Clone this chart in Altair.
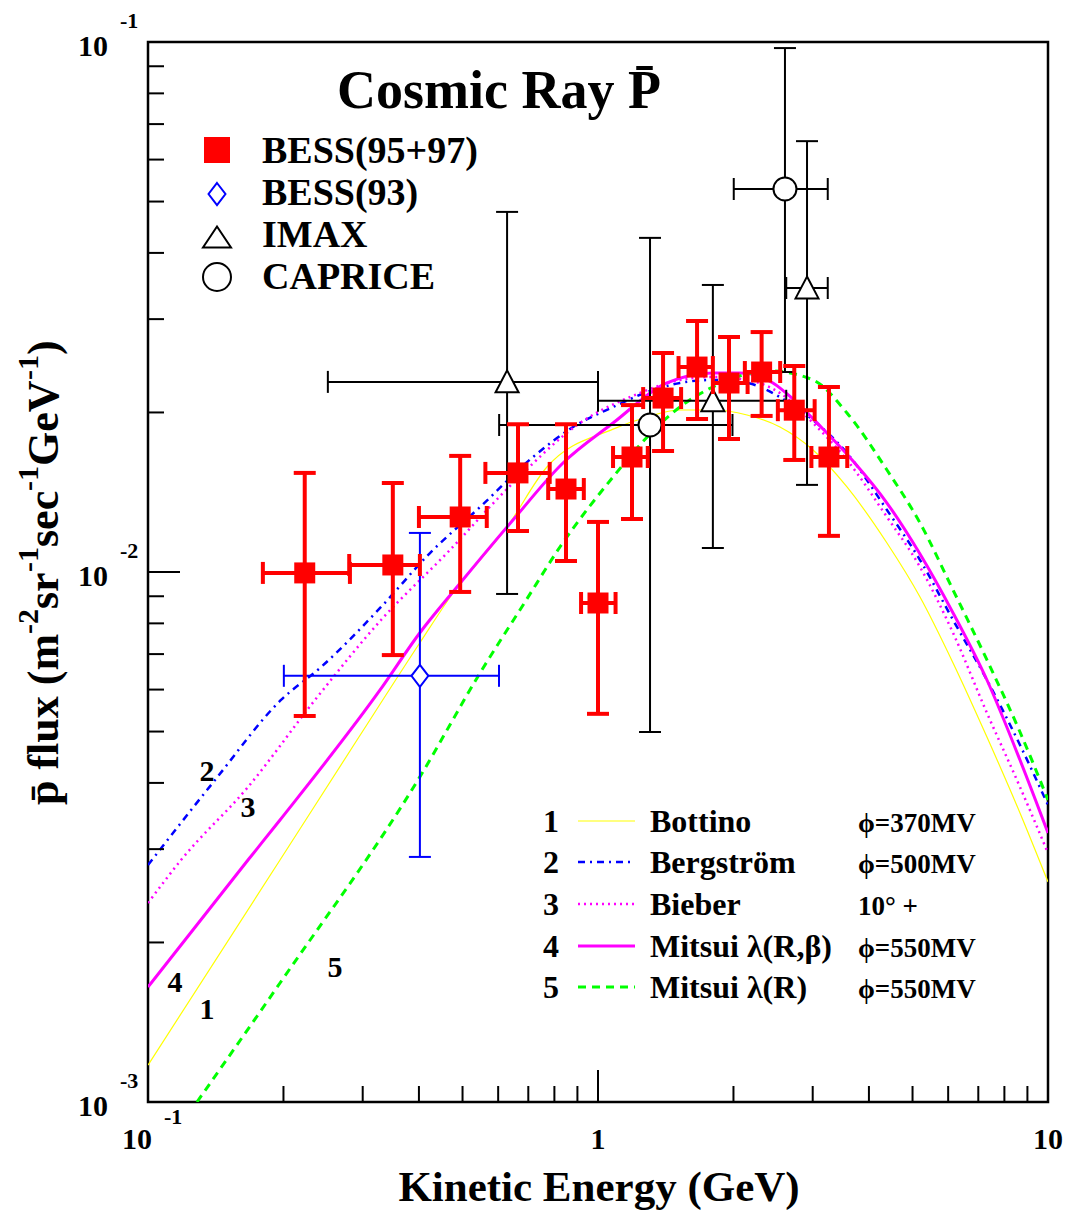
import altair as alt
import pandas as pd

# ---------------- data ----------------
# BESS (95+97)
bess_E = [0.223, 0.350, 0.494, 0.664, 0.849, 1.00, 1.19, 1.395, 1.66, 1.955, 2.31, 2.73, 3.26]
bess_F = [0.00996, 0.01031, 0.01270, 0.01538, 0.01434, 0.00874, 0.01648, 0.02129, 0.02436, 0.02273, 0.02384, 0.0202, 0.01648]
bess_Flo = [0.00535, 0.00697, 0.00917, 0.01195, 0.01049, 0.0054, 0.01259, 0.01691, 0.01944, 0.01782, 0.0197, 0.01627, 0.0117]
bess_Fhi = [0.01538, 0.01472, 0.01656, 0.0190, 0.0190, 0.01243, 0.02065, 0.02589, 0.02976, 0.02776, 0.02836, 0.02447, 0.02234]
bess_Elo = [0.180, 0.280, 0.400, 0.562, 0.775, 0.917, 1.08, 1.26, 1.51, 1.80, 2.12, 2.51, 2.98]
bess_Ehi = [0.281, 0.402, 0.566, 0.781, 0.930, 1.094, 1.29, 1.53, 1.80, 2.15, 2.54, 3.03, 3.58]

# BESS (93)
b93_E = [0.402]
b93_F = [0.00637]
b93_Flo = [0.0029]
b93_Fhi = [0.01185]
b93_Elo = [0.2004]
b93_Ehi = [0.6025]

# IMAX
imax_E = [0.628, 1.80, 2.914]
imax_F = [0.02284, 0.02104, 0.03434]
imax_Flo = [0.00909, 0.0111, 0.0146]
imax_Fhi = [0.0478, 0.0348, 0.0650]
imax_Elo = [0.251, 1.0, 2.62]
imax_Ehi = [1.0, 2.62, 3.24]

# CAPRICE
cap_E = [1.305, 2.603]
cap_F = [0.01894, 0.0528]
cap_Flo = [0.00499, 0.02384]
cap_Fhi = [0.0427, 0.0974]
cap_Elo = [0.603, 2.003]
cap_Ehi = [1.99, 3.24]

# theory curves
bottino_E = [0.1, 0.1965, 0.2914, 0.4016, 0.4762, 0.628, 0.770, 1.080, 1.285, 1.521, 1.80, 2.144, 2.537,
             3.005, 3.575, 4.387, 5.195, 6.152, 7.317, 8.665, 10]
bottino_F = [0.001174, 0.002861, 0.004819, 0.007345, 0.009128, 0.012162, 0.015780, 0.0186, 0.019607,
             0.020213, 0.020213, 0.019778, 0.018773, 0.016990, 0.014468, 0.011341, 0.008970, 0.006736,
             0.004882, 0.003510, 0.002601]

berg_E = [0.1, 0.1409, 0.1975, 0.2424, 0.3295, 0.4233, 0.5468, 0.717, 0.880, 1.080, 1.325, 1.521, 1.80,
          2.144, 2.537, 3.005, 3.575, 4.387, 5.195, 6.152, 7.317, 8.665, 10]
berg_F = [0.002800, 0.004050, 0.005735, 0.006616, 0.008590, 0.010859, 0.013261, 0.016480, 0.018773,
          0.020478, 0.022050, 0.022736, 0.023035, 0.022736, 0.021384, 0.019352, 0.016770, 0.013090,
          0.010534, 0.008118, 0.006255, 0.004717, 0.003633]

bieber_E = [0.1, 0.1184, 0.1668, 0.235, 0.3295, 0.4618, 0.6473, 0.912, 1.240, 1.521, 1.80, 2.144, 2.537,
            3.005, 3.575, 4.387, 5.195, 6.152, 7.317, 8.665, 10]
bieber_F = [0.002374, 0.002861, 0.003929, 0.005735, 0.008118, 0.010859, 0.014720, 0.019101, 0.021765,
            0.023035, 0.023330, 0.023035, 0.021765, 0.019101, 0.016266, 0.012699, 0.010219, 0.007672,
            0.005420, 0.003929, 0.002949]

mrb_E = [0.1, 0.1668, 0.1965, 0.3279, 0.4016, 0.486, 0.6473, 0.836, 1.080, 1.423, 1.80, 2.068, 2.448,
         2.727, 3.162, 3.687, 4.387, 5.195, 6.152, 7.317, 8.665, 10]
mrb_F = [0.001648, 0.002861, 0.003405, 0.005990, 0.007672, 0.009369, 0.012535, 0.016057, 0.019101,
         0.022736, 0.023745, 0.023745, 0.022736, 0.021111, 0.018612, 0.016196, 0.013494, 0.010812,
         0.008371, 0.006255, 0.004418, 0.003218]

mr_E = [0.1285, 0.1965, 0.4016, 0.5468, 0.6884, 0.823, 1.080, 1.352, 1.521, 1.80, 2.411, 3.005, 3.575,
        4.387, 5.195, 6.152, 7.317, 8.665, 10]
mr_F = [0.001, 0.001677, 0.004102, 0.006448, 0.008780, 0.011146, 0.015108, 0.018773, 0.020478, 0.022339,
        0.023953, 0.023035, 0.019953, 0.015575, 0.012375, 0.009248, 0.006824, 0.004990, 0.003714]

# axis ticks
x_major = [0.1, 1, 10]
x_minor = [0.2, 0.3, 0.4, 0.5, 0.6, 0.7, 0.8, 0.9, 2, 3, 4, 5, 6, 7, 8, 9]
y_major = [0.001, 0.01, 0.1]
y_minor = [0.002, 0.003, 0.004, 0.005, 0.006, 0.007, 0.008, 0.009,
           0.02, 0.03, 0.04, 0.05, 0.06, 0.07, 0.08, 0.09]
y_lab_vals = [0.001, 0.01, 0.1]
y_lab_exp = ["-3", "-2", "-1"]

# curve labels on the plot
clab_text = ["2", "3", "4", "1", "5"]
clab_E = [0.1352, 0.1668, 0.1148, 0.1352, 0.2604]
clab_F = [0.00419, 0.00359, 0.00168, 0.00149, 0.00179]

# legend texts
leg_names = ["BESS(95+97)", "BESS(93)", "IMAX", "CAPRICE"]
model_num = ["1", "2", "3", "4", "5"]
model_names = ["Bottino", "Bergström", "Bieber", "Mitsui λ(R,β)", "Mitsui λ(R)"]
model_phi = ["ϕ=370MV", "ϕ=500MV", "10° +", "ϕ=550MV", "ϕ=550MV"]

# ---------------- chart ----------------
W, H = 900, 1060
FONT = "Liberation Serif"
xs = alt.Scale(type="log", domain=[0.1, 10], nice=False)
ys = alt.Scale(type="log", domain=[0.001, 0.1], nice=False)


def X(f):
    return alt.X(f, type="quantitative", scale=xs, axis=None)


def Y(f):
    return alt.Y(f, type="quantitative", scale=ys, axis=None)


one = pd.DataFrame({"a": [0]})
layers = []

styles = [
    (bottino_E, bottino_F, "#ffff00", 1.2, None),
    (berg_E, berg_F, "#0000ff", 2.5, [7, 5, 2, 5]),
    (bieber_E, bieber_F, "#ff00ff", 2.5, [2, 4]),
    (mrb_E, mrb_F, "#ff00ff", 3, None),
    (mr_E, mr_F, "#00ff00", 3, [8, 6]),
]
for E, F, col, w, dash in styles:
    kw = dict(color=col, strokeWidth=w, clip=True, interpolate="monotone")
    if dash:
        kw["strokeDash"] = dash
    layers.append(alt.Chart(pd.DataFrame({"E": E, "F": F})).mark_line(**kw).encode(x=X("E"), y=Y("F")))


def errset(E, F, Flo, Fhi, Elo, Ehi, col, lw, cap, marker):
    df = pd.DataFrame({"E": E, "F": F, "Flo": Flo, "Fhi": Fhi, "Elo": Elo, "Ehi": Ehi})
    base = alt.Chart(df)
    out = [
        base.mark_rule(color=col, strokeWidth=lw).encode(x=X("E"), y=Y("Flo"), y2="Fhi"),
        base.mark_rule(color=col, strokeWidth=lw).encode(x=X("Elo"), x2="Ehi", y=Y("F")),
        base.mark_tick(color=col, orient="horizontal", size=cap, thickness=lw, opacity=1).encode(x=X("E"), y=Y("Fhi")),
        base.mark_tick(color=col, orient="horizontal", size=cap, thickness=lw, opacity=1).encode(x=X("E"), y=Y("Flo")),
        base.mark_tick(color=col, orient="vertical", size=cap, thickness=lw, opacity=1).encode(x=X("Elo"), y=Y("F")),
        base.mark_tick(color=col, orient="vertical", size=cap, thickness=lw, opacity=1).encode(x=X("Ehi"), y=Y("F")),
        base.mark_point(**marker).encode(x=X("E"), y=Y("F")),
    ]
    return out


diamond = "M0,-1L0.77,0L0,1L-0.77,0Z"
tri = "M0,-1L1,0.9L-1,0.9Z"
layers += errset(b93_E, b93_F, b93_Flo, b93_Fhi, b93_Elo, b93_Ehi, "#0000ff", 2, 22,
                 dict(shape=diamond, size=484, filled=True, fill="white", stroke="#0000ff", strokeWidth=2, opacity=1))
layers += errset(imax_E, imax_F, imax_Flo, imax_Fhi, imax_Elo, imax_Ehi, "black", 2, 22,
                 dict(shape=tri, size=529, filled=True, fill="white", stroke="black", strokeWidth=2, opacity=1))
layers += errset(cap_E, cap_F, cap_Flo, cap_Fhi, cap_Elo, cap_Ehi, "black", 2, 22,
                 dict(shape="circle", size=529, filled=True, fill="white", stroke="black", strokeWidth=2, opacity=1))
layers += errset(bess_E, bess_F, bess_Flo, bess_Fhi, bess_Elo, bess_Ehi, "#ff0000", 4, 22,
                 dict(shape="square", size=441, filled=True, color="#ff0000", opacity=1))

# ticks (inward)
layers.append(alt.Chart(pd.DataFrame({"v": x_major})).mark_rule(color="black", strokeWidth=2)
              .encode(x=X("v"), y=alt.value(H), y2=alt.value(H - 32)))
layers.append(alt.Chart(pd.DataFrame({"v": x_minor})).mark_rule(color="black", strokeWidth=2)
              .encode(x=X("v"), y=alt.value(H), y2=alt.value(H - 16)))
layers.append(alt.Chart(pd.DataFrame({"v": y_major})).mark_rule(color="black", strokeWidth=2)
              .encode(y=Y("v"), x=alt.value(0), x2=alt.value(32)))
layers.append(alt.Chart(pd.DataFrame({"v": y_minor})).mark_rule(color="black", strokeWidth=2)
              .encode(y=Y("v"), x=alt.value(0), x2=alt.value(16)))

# tick labels
tf = dict(font=FONT, fontWeight="bold", color="black")
ylab = pd.DataFrame({"v": y_lab_vals, "t": ["10"] * 3, "e": y_lab_exp})
layers.append(alt.Chart(ylab).mark_text(fontSize=30, align="right", baseline="middle", dy=5, **tf)
              .encode(y=Y("v"), x=alt.value(-40), text="t:N"))
layers.append(alt.Chart(ylab).mark_text(fontSize=22, align="left", baseline="middle", dy=-21, **tf)
              .encode(y=Y("v"), x=alt.value(-28), text="e:N"))
xl1 = pd.DataFrame({"v": [0.1], "t": ["10"], "e": ["-1"]})
layers.append(alt.Chart(xl1).mark_text(fontSize=30, align="center", baseline="middle", dx=-11, **tf)
              .encode(x=X("v"), y=alt.value(H + 38), text="t:N"))
layers.append(alt.Chart(xl1).mark_text(fontSize=22, align="left", baseline="middle", dx=16, **tf)
              .encode(x=X("v"), y=alt.value(H + 15), text="e:N"))
xl2 = pd.DataFrame({"v": [1, 10], "t": ["1", "10"]})
layers.append(alt.Chart(xl2).mark_text(fontSize=30, align="center", baseline="middle", **tf)
              .encode(x=X("v"), y=alt.value(H + 38), text="t:N"))

# curve number labels
layers.append(alt.Chart(pd.DataFrame({"E": clab_E, "F": clab_F, "t": clab_text}))
              .mark_text(fontSize=30, align="center", baseline="middle", **tf)
              .encode(x=X("E"), y=Y("F"), text="t:N"))

# axis titles
layers.append(alt.Chart(one).mark_text(text="Kinetic Energy (GeV)", fontSize=43, align="center",
                                        baseline="alphabetic", **tf)
              .encode(x=alt.value(451), y=alt.value(1159)))
ytitle = [("p\u0304 flux (m", 44, -90, 763), ("-2", 30, -110, 592), ("sr", 44, -90, 567),
          ("-1", 30, -110, 530), ("sec", 44, -90, 505), ("-1", 30, -110, 449),
          ("GeV", 44, -90, 424), ("-1", 30, -110, 338), (")", 44, -90, 313)]
for t, fs, xx, yy in ytitle:
    layers.append(alt.Chart(one).mark_text(text=t, fontSize=fs, angle=270, align="left",
                                            baseline="alphabetic", **tf)
                  .encode(x=alt.value(xx), y=alt.value(yy)))

# title
layers.append(alt.Chart(one).mark_text(text="Cosmic Ray P\u0304", fontSize=54, align="left",
                                        baseline="alphabetic", **tf)
              .encode(x=alt.value(189), y=alt.value(66)))

# top-left legend
leg_marks = [
    dict(shape="square", size=676, filled=True, color="#ff0000", opacity=1),
    dict(shape=diamond, size=484, filled=True, fill="white", stroke="#0000ff", strokeWidth=2, opacity=1),
    dict(shape="M0,-0.75L1,0.75L-1,0.75Z", size=784, filled=True, fill="white", stroke="black", strokeWidth=2, opacity=1),
    dict(shape="circle", size=784, filled=True, fill="white", stroke="black", strokeWidth=2, opacity=1),
]
mk_y = [108, 152, 195, 235]
tx_y = [121, 163, 205, 247]
for name, mk, my, ty in zip(leg_names, leg_marks, mk_y, tx_y):
    layers.append(alt.Chart(one).mark_point(**mk).encode(x=alt.value(69), y=alt.value(my)))
    layers.append(alt.Chart(one).mark_text(text=name, fontSize=38, align="left", baseline="alphabetic", **tf)
                  .encode(x=alt.value(114), y=alt.value(ty)))

# bottom-right legend
row_y = [790, 831, 873, 915, 956]
for (E, F, col, w, dash), num, nm, ph, ry in zip(styles, model_num, model_names, model_phi, row_y):
    layers.append(alt.Chart(one).mark_text(text=num, fontSize=32, align="left", baseline="alphabetic", **tf)
                  .encode(x=alt.value(395), y=alt.value(ry)))
    kw = dict(color=col, strokeWidth=w)
    if dash:
        kw["strokeDash"] = dash
    layers.append(alt.Chart(one).mark_rule(**kw)
                  .encode(x=alt.value(430), x2=alt.value(487), y=alt.value(ry - 11)))
    layers.append(alt.Chart(one).mark_text(text=nm, fontSize=32, align="left", baseline="alphabetic", **tf)
                  .encode(x=alt.value(502), y=alt.value(ry)))
    layers.append(alt.Chart(one).mark_text(text=ph, fontSize=27, align="left", baseline="alphabetic", **tf)
                  .encode(x=alt.value(710), y=alt.value(ry)))

chart = alt.layer(*layers).properties(
    width=W, height=H,
    autosize="none",
    padding={"left": 140, "top": 34, "right": 16, "bottom": 118},
).configure_view(stroke="black", strokeWidth=2.5)

chart.save("out.html", embed_options={"renderer": "svg", "actions": False})
